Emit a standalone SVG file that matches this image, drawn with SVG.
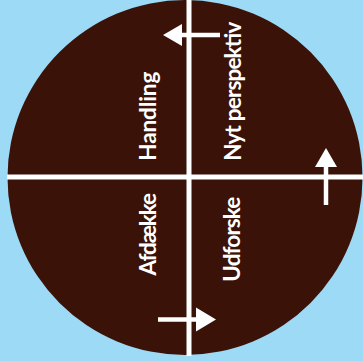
<svg xmlns="http://www.w3.org/2000/svg" width="363" height="361" viewBox="0 0 363 361">
<style>
.lbl{font-family:Lato,"Open Sans","Liberation Sans",sans-serif;font-weight:bold;font-size:22.5px;fill:#ffffff}
.ax{stroke:#ffffff;stroke-width:5;fill:none}
.sh{stroke:#ffffff;stroke-width:4.5;fill:none}
.hd{fill:#ffffff}
</style>
<rect width="363" height="361" fill="#9ddaf6"/>
<g id="disc"><circle cx="185" cy="177.5" r="177.5" fill="#3a1208"/></g>
<g id="connectors">
<line class="ax" x1="7" y1="177" x2="363" y2="177"/>
<line class="ax" x1="189" y1="0" x2="189" y2="356"/>
<line class="sh" x1="220" y1="35" x2="180" y2="35"/>
<polygon class="hd" points="163,35 182,24 182,46"/>
<line class="sh" x1="326" y1="205" x2="326" y2="166"/>
<polygon class="hd" points="326,148 315,167 337,167"/>
<line class="sh" x1="158" y1="319.5" x2="198" y2="319.5"/>
<polygon class="hd" points="216,319.5 196,307.5 196,331.5"/>
</g>
<g id="handling"><text class="lbl" transform="translate(156,160.7) rotate(-90)" textLength="89" lengthAdjust="spacing">Handling</text></g>
<g id="nyt-perspektiv"><text class="lbl" transform="translate(240.5,160.7) rotate(-90)" textLength="139" lengthAdjust="spacing">Nyt perspektiv</text></g>
<g id="afdaekke"><text class="lbl" transform="translate(155.7,275.5) rotate(-90)" textLength="82.5" lengthAdjust="spacing">Afdække</text></g>
<g id="udforske"><text class="lbl" transform="translate(240.3,281.7) rotate(-90)" textLength="85" lengthAdjust="spacing">Udforske</text></g>
</svg>
